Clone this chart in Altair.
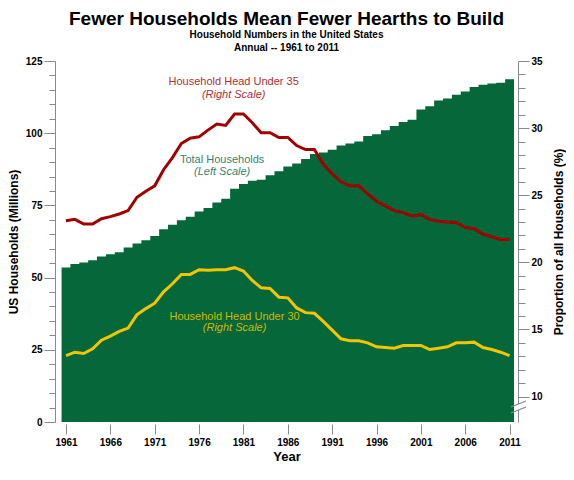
import altair as alt
import pandas as pd

years = list(range(1961, 2012))

# total households, millions (left scale)
households = [
    53.5, 54.7, 55.2, 56.0, 57.3, 58.1, 58.8, 60.4, 61.8, 62.9,
    64.4, 66.7, 68.3, 69.9, 71.1, 72.9, 74.1, 76.0, 77.3, 80.8,
    82.4, 83.5, 83.9, 85.4, 86.8, 88.5, 89.5, 91.1, 92.8, 93.3,
    94.3, 95.7, 96.4, 97.1, 99.0, 99.6, 101.0, 102.5, 103.9, 104.7,
    108.2, 109.3, 111.3, 112.0, 113.3, 114.4, 116.0, 116.8, 117.2, 117.5,
    118.7,
]

# share of households by age of head, % (right scale)
under35 = [
    23.1, 23.2, 22.85, 22.85, 23.25, 23.4, 23.6, 23.85, 24.85, 25.3,
    25.7, 26.9, 27.8, 28.85, 29.25, 29.35, 29.85, 30.3, 30.2, 31.05,
    31.05, 30.4, 29.65, 29.65, 29.3, 29.3, 28.7, 28.4, 28.4, 27.3,
    26.6, 26.0, 25.7, 25.7, 25.1, 24.55, 24.2, 23.85, 23.7, 23.45,
    23.55, 23.2, 23.05, 23.0, 22.95, 22.6, 22.5, 22.1, 21.9, 21.7,
    21.7,
]
under30 = [
    13.05, 13.3, 13.2, 13.55, 14.2, 14.5, 14.85, 15.1, 16.1, 16.55,
    16.95, 17.8, 18.4, 19.1, 19.1, 19.45, 19.4, 19.45, 19.45, 19.6,
    19.35, 18.65, 18.1, 18.05, 17.4, 17.35, 16.6, 16.25, 16.2, 15.6,
    14.95, 14.3, 14.15, 14.15, 14.0, 13.7, 13.65, 13.6, 13.8, 13.8,
    13.8, 13.5, 13.6, 13.7, 14.0, 14.0, 14.05, 13.65, 13.5, 13.3,
    13.05,
]

label_text = ["Household Head Under 35", "Total Households", "Household Head Under 30"]
label_note = ["(Right Scale)", "(Left Scale)", "(Right Scale)"]
label_year = [1979.9, 1978.6, 1980.0]
label_pct = [33.4, 27.6, 15.93]
note_pct = [32.5, 26.75, 15.08]
label_color = ["#b03030", "#3a8070", "#cdbb00"]

FONT = "Liberation Sans"
GREEN = "#05673a"
GREY = "#8a8a8a"

df = pd.DataFrame({"year": years, "households": households,
                   "under35": under35, "under30": under30})
labels = pd.DataFrame({"text": label_text, "note": label_note, "year": label_year,
                       "pct": label_pct, "note_pct": note_pct, "color": label_color})

x_scale = alt.Scale(domain=[1959.76, 2011.95], nice=False, zero=False)
right_scale = alt.Scale(domain=[8.1, 35], nice=False, zero=False)

right_axis = alt.Axis(
    orient="right", values=list(range(10, 36)),
    labelExpr="datum.value % 5 === 0 ? datum.label : ''",
    tickSize={"condition": {"test": "datum.value % 5 === 0", "value": 11}, "value": 7},
    title="Proportion of all Households (%)", titleAngle=270,
    titleX=40, titleBaseline="middle",
)

# bars overlap slightly so no seams show between years
bars = (
    alt.Chart(df)
    .transform_calculate(x0="datum.year - 0.5",
                         x1="datum.year < 2011 ? datum.year + 0.6 : datum.year + 0.5",
                         base="0")
    .mark_rect(color=GREEN)
    .encode(
        x=alt.X("x0:Q", scale=x_scale,
                axis=alt.Axis(values=list(range(1961, 2012, 5)), format="d", title="Year",
                              tickSize=10, labelPadding=3, domain=False, offset=2,
                              titlePadding=3, titleFontSize=13)),
        x2="x1:Q",
        y=alt.Y("households:Q", scale=alt.Scale(domain=[0, 125], nice=False),
                axis=alt.Axis(values=list(range(0, 126, 5)),
                              labelExpr="datum.value % 25 === 0 ? datum.label : ''",
                              tickSize={"condition": {"test": "datum.value % 25 === 0", "value": 11}, "value": 6},
                              title="US Households (Millions)", titlePadding=5)),
        y2="base:Q",
    )
)

line35 = alt.Chart(df).mark_line(color="#a00000", strokeWidth=3).encode(
    x=alt.X("year:Q", scale=x_scale),
    y=alt.Y("under35:Q", scale=right_scale, axis=right_axis),
)
line30 = alt.Chart(df).mark_line(color="#f2c500", strokeWidth=3).encode(
    x=alt.X("year:Q", scale=x_scale),
    y=alt.Y("under30:Q", scale=right_scale, axis=right_axis),
)
names = alt.Chart(labels).mark_text(font=FONT, fontSize=11).encode(
    x=alt.X("year:Q", scale=x_scale),
    y=alt.Y("pct:Q", scale=right_scale, axis=right_axis),
    text="text:N",
    color=alt.Color("color:N", scale=None),
)
notes = alt.Chart(labels).mark_text(font=FONT, fontSize=11, fontStyle="italic").encode(
    x=alt.X("year:Q", scale=x_scale),
    y=alt.Y("note_pct:Q", scale=right_scale, axis=right_axis),
    text="note:N",
    color=alt.Color("color:N", scale=None),
)

# axis break marks on the right scale
gap = alt.Chart(pd.DataFrame({"k": [0]})).mark_rule(color="white", strokeWidth=3).encode(
    x=alt.value(463), y=alt.value(343), y2=alt.value(349),
)
slash1 = alt.Chart(pd.DataFrame({"k": [0]})).mark_rule(color=GREY, strokeWidth=1.2).encode(
    x=alt.value(456), x2=alt.value(471), y=alt.value(346), y2=alt.value(340),
)
slash2 = alt.Chart(pd.DataFrame({"k": [0]})).mark_rule(color=GREY, strokeWidth=1.2).encode(
    x=alt.value(456), x2=alt.value(471), y=alt.value(352), y2=alt.value(346),
)

right = alt.layer(line35, line30, names, notes)

chart = (
    alt.layer(bars, right, gap, slash1, slash2)
    .resolve_scale(y="independent")
    .properties(
        width=463, height=361,
        autosize="none",
        padding={"left": 47, "top": 53, "right": 48, "bottom": 42},
        title=alt.TitleParams(
            text="Fewer Households Mean Fewer Hearths to Build",
            subtitle=["Household Numbers in the United States", "Annual -- 1961 to 2011"],
            font=FONT, fontSize=19, fontWeight="bold", color="black",
            subtitleFont=FONT, subtitleFontSize=10, subtitleFontWeight="bold",
            subtitleColor="black", subtitlePadding=1, subtitleLineHeight=13,
            anchor="middle", offset=3,
        ),
    )
    .configure_view(stroke=None)
    .configure_axis(
        labelFont=FONT, labelFontSize=10, labelFontWeight="bold", labelColor="black",
        titleFont=FONT, titleFontSize=12, titleFontWeight="bold", titleColor="black",
        domainColor=GREY, tickColor=GREY, grid=False,
    )
)

chart.save("out.html", embed_options={"renderer": "svg", "actions": False})
